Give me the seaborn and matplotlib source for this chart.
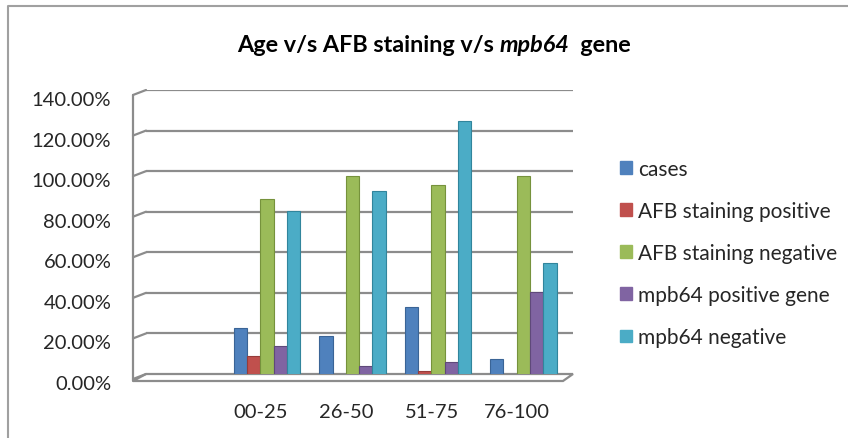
import matplotlib
matplotlib.use("Agg")
import matplotlib.pyplot as plt
import matplotlib.transforms as mtransforms
from matplotlib.patches import Patch, Polygon
from matplotlib.lines import Line2D
import seaborn as sns
import pandas as pd
import numpy as np

categories = ["", "00-25", "26-50", "51-75", "76-100"]
series = ["cases", "AFB staining positive", "AFB staining negative",
          "mpb64 positive gene", "mpb64 negative"]
cases = [np.nan, 25.0, 21.2, 35.5, 10.0]
afb_pos = [np.nan, 11.1, 0.0, 4.0, 0.0]
afb_neg = [np.nan, 88.9, 100.0, 95.5, 100.0]
mpb_pos = [np.nan, 16.4, 6.6, 8.4, 42.7]
mpb_neg = [np.nan, 82.8, 92.7, 127.4, 57.4]
yticks = [0, 20, 40, 60, 80, 100, 120, 140]
title_parts = [("Age v/s AFB staining v/s ", "normal"), ("mpb64", "italic"), ("  gene", "normal")]

colors = ["#4F81BD", "#C0504D", "#9BBB59", "#8064A2", "#4BACC6"]
edges = ["#3A6496", "#963C3A", "#76923C", "#5F497A", "#31859C"]

rows = []
for s, vals in zip(series, [cases, afb_pos, afb_neg, mpb_pos, mpb_neg]):
    for c, v in zip(categories, vals):
        rows.append({"age": c, "series": s, "value": v})
df = pd.DataFrame(rows)

sns.set_theme(style="white")
plt.rcParams["font.family"] = ["Lato", "DejaVu Sans"]

W, H = 848, 439
fig = plt.figure(figsize=(W / 100, H / 100), dpi=100)
ax = fig.add_axes([146 / W, (H - 375) / H, (573 - 146) / W, (375 - 91) / H])

sns.barplot(data=df, x="age", y="value", hue="series", order=categories,
            hue_order=series, palette=colors, width=0.78, ax=ax,
            legend=False, errorbar=None, saturation=1)

# shift bars to the front plane (pseudo-3D) and set edges
off = mtransforms.ScaledTranslation(-7 / 100, -5 / 100, fig.dpi_scale_trans)
for i, cont in enumerate(ax.containers):
    for p in cont.patches:
        p.set_transform(ax.transData + off)
        p.set_edgecolor(edges[i])
        p.set_linewidth(0.8)
        p.set_zorder(3)

ax.set_ylim(0, 140)
ax.set_xlim(-0.5, len(categories) - 0.5)
ax.set_yticks(yticks)
ax.yaxis.set_major_formatter(matplotlib.ticker.FuncFormatter(lambda v, p: f"{v:.2f}%"))
grid_c = "#8C8C8C"
ax.grid(False)
for s in ax.spines.values():
    s.set_visible(False)

# back-wall gridlines plus diagonal stubs to the side wall
for v in yticks:
    ax.axhline(v, color=grid_c, lw=1.6, zorder=1)
    ypx = 375 - v / 140 * (375 - 91)
    fig.add_artist(Line2D([133 / W, 146 / W], [(H - ypx - 5) / H, (H - ypx) / H],
                          transform=fig.transFigure, color=grid_c, lw=1.6))

# left wall vertical line and floor
fig.add_artist(Line2D([133 / W, 133 / W], [(H - 382) / H, (H - 96) / H],
                      transform=fig.transFigure, color=grid_c, lw=1.6))
floor = Polygon([[133 / W, (H - 382) / H], [563 / W, (H - 382) / H], [573 / W, (H - 375) / H],
                 [146 / W, (H - 375) / H]], closed=True, transform=fig.transFigure,
                facecolor="white", edgecolor=grid_c, lw=1.6, zorder=0)
fig.add_artist(floor)

ax.tick_params(axis="y", length=0, pad=25, labelsize=14.5, colors="#262626")
ax.tick_params(axis="x", length=0, pad=21, labelsize=14.5, colors="#262626")
yoff = mtransforms.ScaledTranslation(0, -8 / 100, fig.dpi_scale_trans)
for lab in ax.get_yticklabels():
    lab.set_transform(lab.get_transform() + yoff)
xoff = mtransforms.ScaledTranslation(-13 / 100, 0, fig.dpi_scale_trans)
for lab in ax.get_xticklabels():
    lab.set_transform(lab.get_transform() + xoff)
ax.set_xlabel("")
ax.set_ylabel("")

# title composed of pieces (italic gene name)
renderer = fig.canvas.get_renderer()
pieces = []
for txt, style in title_parts:
    t = fig.text(0, 1 - 45 / H, txt, ha="left", va="center", fontsize=16.8,
                 fontweight="bold", style=style, color="black")
    pieces.append(t)
widths = [t.get_window_extent(renderer).width for t in pieces]
x0 = 434 - sum(widths) / 2
for t, w in zip(pieces, widths):
    t.set_x(x0 / W)
    x0 += w

handles = [Patch(facecolor=c, edgecolor=c) for c in colors]
fig.legend(handles, series, loc="upper left", bbox_to_anchor=(620 / W, 1 - 160 / H),
           frameon=False, fontsize=15, handlelength=0.58, handleheight=0.58,
           handletextpad=0.28, labelspacing=1.06, borderaxespad=0, borderpad=0,
           labelcolor="#262626")

# outer border
fig.add_artist(Line2D([8 / W, 8 / W, 1], [0, 1 - 7 / H, 1 - 7 / H], transform=fig.transFigure,
                      color="#A0A0A0", lw=1.5))

fig.savefig("out.png", dpi=100, facecolor="white")
